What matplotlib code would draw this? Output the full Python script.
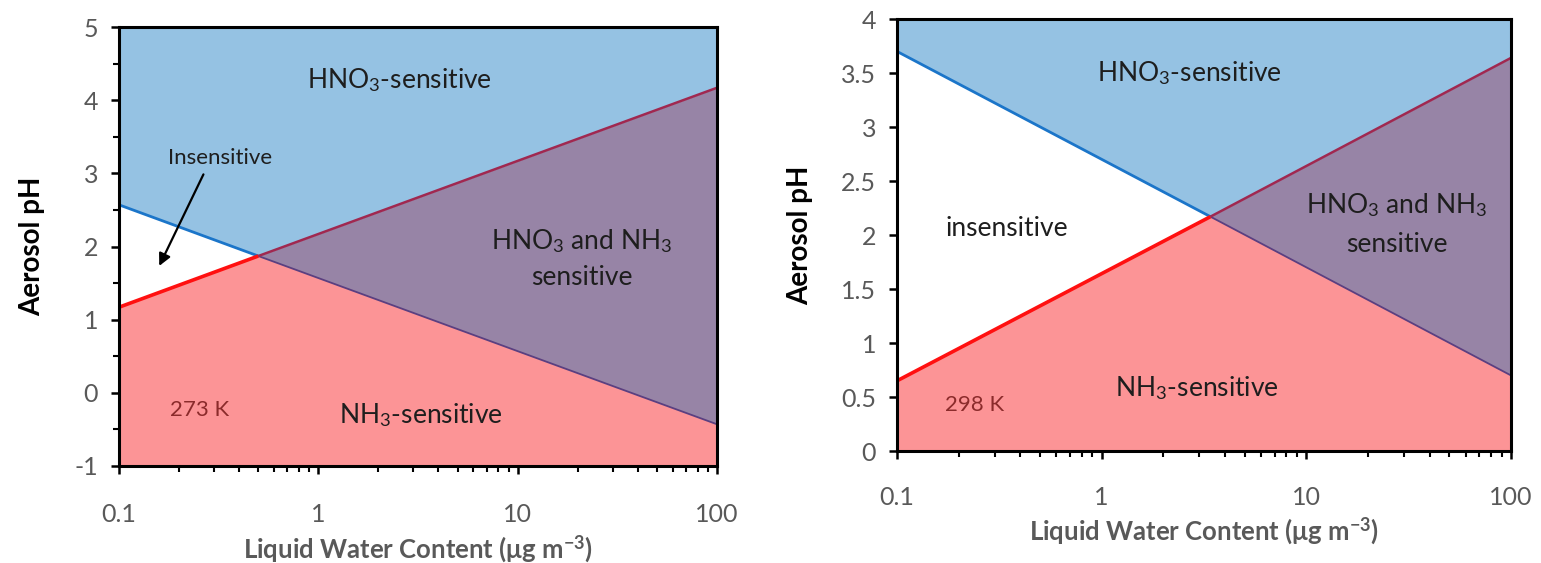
import matplotlib
matplotlib.use("Agg")
import matplotlib.pyplot as plt
import numpy as np
from matplotlib.ticker import FixedLocator, LogLocator, NullFormatter

plt.rcParams['font.family'] = ['Lato', 'DejaVu Sans']
plt.rcParams['mathtext.fontset'] = 'custom'
plt.rcParams['mathtext.rm'] = 'Lato'
plt.rcParams['mathtext.it'] = 'Lato:italic'
plt.rcParams['mathtext.bf'] = 'Lato:bold'

# ---------------- data ----------------
lwc = [0.1, 100]
# left panel (273 K)
left_w = [0.1, 0.5, 100]          # includes crossing point
left_hno3_line = [2.57, 1.87, -0.43]
left_nh3_line = [1.17, 1.87, 4.17]
left_ylim = [-1, 5]
left_yticks = [-1, 0, 1, 2, 3, 4, 5]
# right panel (298 K)
right_w = [0.1, 3.4, 100]
right_hno3_line = [3.70, 2.17, 0.70]
right_nh3_line = [0.65, 2.17, 3.64]
right_ylim = [0, 4]
right_yticks = [0, 0.5, 1, 1.5, 2, 2.5, 3, 3.5, 4]
xticks = [0.1, 1, 10, 100]
xticklabels = ['0.1', '1', '10', '100']

C_BLUE = '#95C2E3'
C_RED = '#FC9496'
C_PURP = '#9784A6'
GREY = '#595959'

fig = plt.figure(figsize=(15.41, 5.63), dpi=100)
axL = fig.add_axes([0.0772, 0.1723, 0.3881, 0.7797])
axR = fig.add_axes([0.5821, 0.1989, 0.3984, 0.7673])


def panel(ax, w, hl, nl, ylim, yticks, yminor, xpad, ypad, ylp, xlp):
    w = np.array(w); hl = np.array(hl); nl = np.array(nl)
    top = np.maximum(hl, nl)
    bot = np.minimum(hl, nl)
    ax.fill_between(w, top, ylim[1], color=C_BLUE, lw=0)
    ax.fill_between(w, ylim[0], bot, color=C_RED, lw=0)
    ax.fill_between(w, hl, nl, where=nl >= hl, color=C_PURP, lw=0)
    ax.plot(w[:2], hl[:2], color='#1B75C9', lw=2.0, solid_capstyle='butt')
    ax.plot(w[1:], hl[1:], color='#5B3F80', lw=1.3, solid_capstyle='butt')
    ax.plot(w[:2], nl[:2], color='#FF1010', lw=2.6, solid_capstyle='butt')
    ax.plot(w[1:], nl[1:], color='#A02850', lw=1.8, solid_capstyle='butt')
    ax.set_xscale('log')
    ax.set_xlim(lwc)
    ax.set_ylim(ylim)
    ax.set_xticks(xticks)
    ax.set_xticklabels(xticklabels)
    ax.xaxis.set_minor_locator(LogLocator(base=10, subs=np.arange(2, 10)))
    ax.xaxis.set_minor_formatter(NullFormatter())
    ax.set_yticks(yticks)
    ax.set_yticklabels([f'{v:g}' for v in yticks])
    if yminor:
        ax.yaxis.set_minor_locator(FixedLocator(yminor))
    ax.tick_params(axis='both', which='major', direction='out', length=6, width=1.8,
                   labelsize=18, labelcolor=GREY, color='black')
    ax.tick_params(axis='both', which='minor', direction='out', length=4, width=1.5, color='black')
    ax.tick_params(axis='x', which='major', pad=xpad)
    ax.tick_params(axis='y', which='major', pad=ypad)
    for s in ax.spines.values():
        s.set_linewidth(2.2)
        s.set_color('black')
        s.set_zorder(5)
    ax.set_ylabel('Aerosol pH', fontsize=20, fontweight='bold', color='black', labelpad=ylp)
    ax.set_xlabel('Liquid Water Content (μg m$^{\\mathbf{-3}}$)', fontsize=18.5, fontweight='bold',
                  color=GREY, labelpad=xlp)


panel(axL, left_w, left_hno3_line, left_nh3_line, left_ylim, left_yticks,
      [-0.5, 0.5, 1.5, 2.5, 3.5, 4.5], 21, 9, 21, 5)
panel(axR, right_w, right_hno3_line, right_nh3_line, right_ylim, right_yticks,
      None, 19, 9, 20, 5)

fs = 19
TC = '#1E1E1E'
# left texts
axL.text(2.54, 4.27, 'HNO$_3$-sensitive', ha='center', va='center', fontsize=fs, color=TC)
axL.text(0.32, 3.21, 'Insensitive', ha='center', va='center', fontsize=16, color=TC)
axL.annotate('', xy=(0.157, 1.70), xytext=(0.269, 3.02),
             arrowprops=dict(arrowstyle='-|>', color='black', lw=1.6, mutation_scale=18))
axL.text(20.9, 2.08, 'HNO$_3$ and NH$_3$', ha='center', va='center', fontsize=fs, color=TC)
axL.text(20.9, 1.58, 'sensitive', ha='center', va='center', fontsize=fs, color=TC)
axL.text(0.254, -0.23, '273 K', ha='center', va='center', fontsize=16, color='#8B2B2B')
axL.text(3.27, -0.31, 'NH$_3$-sensitive', ha='center', va='center', fontsize=fs, color=TC)

# right texts
axR.text(2.70, 3.50, 'HNO$_3$-sensitive', ha='center', va='center', fontsize=fs, color=TC)
axR.text(0.344, 2.06, 'insensitive', ha='center', va='center', fontsize=fs, color=TC)
axR.text(27.7, 2.28, 'HNO$_3$ and NH$_3$', ha='center', va='center', fontsize=fs, color=TC)
axR.text(27.7, 1.91, 'sensitive', ha='center', va='center', fontsize=fs, color=TC)
axR.text(0.24, 0.43, '298 K', ha='center', va='center', fontsize=16, color='#8B2B2B')
axR.text(2.93, 0.58, 'NH$_3$-sensitive', ha='center', va='center', fontsize=fs, color=TC)

fig.savefig('out.png', dpi=100)
